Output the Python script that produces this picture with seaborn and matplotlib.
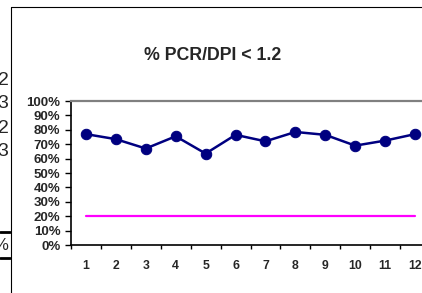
import matplotlib
matplotlib.use("Agg")
import matplotlib.pyplot as plt
from matplotlib.lines import Line2D
from matplotlib.ticker import FixedLocator
import seaborn as sns
import pandas as pd

# ---- data ----
months = [1, 2, 3, 4, 5, 6, 7, 8, 9, 10, 11, 12]
pct_values = [77, 73.5, 67, 75.5, 63.5, 76.5, 72, 78.5, 76.5, 69, 72.5, 77]
target_values = [20, 20, 20, 20, 20, 20, 20, 20, 20, 20, 20, 20]
y_ticks = [0, 10, 20, 30, 40, 50, 60, 70, 80, 90, 100]
y_tick_labels = [f"{v}%" for v in y_ticks]
title = "% PCR/DPI < 1.2"
side_fragments = ["2", "3", "2", "3"]

sns.set_style("white")
plt.rcParams["font.family"] = ["Liberation Sans", "DejaVu Sans"]

W, H = 422, 293
fig = plt.figure(figsize=(W / 100, H / 100), dpi=100)
fig.patch.set_facecolor("white")

ax = fig.add_axes([71 / W, (H - 245) / H, 359 / W, 144 / H])
ax.set_facecolor("white")

df = pd.DataFrame({"month": months, "pct": pct_values, "target": target_values})
sns.lineplot(data=df, x="month", y="target", ax=ax, color="#FF00FF",
             linewidth=1.6, clip_on=False)
sns.lineplot(data=df, x="month", y="pct", ax=ax, color="#000080",
             linewidth=1.8, marker="o", markersize=7.5,
             markeredgecolor="#000080", clip_on=False)

ax.set_xlim(0.5, 12.5)
ax.set_ylim(0, 100)
ax.set_xlabel("")
ax.set_ylabel("")

ax.set_yticks(y_ticks)
ax.set_yticklabels(y_tick_labels, fontsize=9.5, fontweight="bold")
ax.tick_params(axis="y", direction="out", length=4.5, width=1.0, pad=3,
               color="black", left=True)

ax.set_xticks(months)
ax.set_xticklabels([str(m) for m in months], fontsize=8.8, fontweight="bold")
ax.xaxis.set_minor_locator(FixedLocator([m - 0.5 for m in months] + [12.5]))
ax.tick_params(axis="x", which="major", length=0, pad=10.5)
ax.tick_params(axis="x", which="minor", direction="out", length=3,
               width=1.0, color="black", bottom=True)

for s in ["left", "bottom"]:
    ax.spines[s].set_color("black")
    ax.spines[s].set_linewidth(1.2)
ax.spines["top"].set_color("#808080")
ax.spines["top"].set_linewidth(1.6)
ax.spines["right"].set_visible(False)
ax.grid(False)

fig.text(212.5 / W, 1 - 55 / H, title, ha="center", va="center",
         fontsize=12.8, fontweight="bold")

# frame of the surrounding element
fig.add_artist(Line2D([10.5 / W, 10.5 / W], [1 - 7 / H, 0], color="black",
                      linewidth=0.8, transform=fig.transFigure))
fig.add_artist(Line2D([10.5 / W, 1], [1 - 7 / H, 1 - 7 / H], color="black",
                      linewidth=0.8, transform=fig.transFigure))
fig.add_artist(Line2D([0, 10 / W], [1 - 232 / H, 1 - 232 / H], color="black",
                      linewidth=2, transform=fig.transFigure))
fig.add_artist(Line2D([0, 10 / W], [1 - 258 / H, 1 - 258 / H], color="black",
                      linewidth=2, transform=fig.transFigure))

for txt, yy in zip(side_fragments, [80, 104, 128, 152]):
    fig.text(8.5 / W, 1 - yy / H, txt, ha="right", va="center", fontsize=14)
fig.text(8.5 / W, 1 - 245 / H, "%", ha="right", va="center", fontsize=12)

fig.savefig("out.png", dpi=100)
